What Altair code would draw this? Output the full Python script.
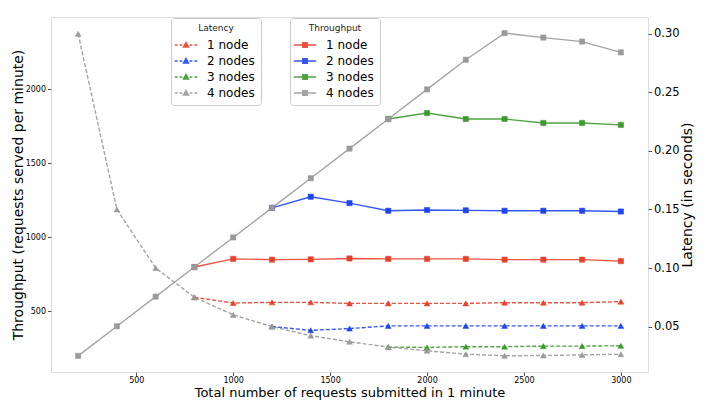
import altair as alt
import pandas as pd

requests = [200, 400, 600, 800, 1000, 1200, 1400, 1600, 1800, 2000, 2200, 2400, 2600, 2800, 3000]
series_labels = ["1 node", "2 nodes", "3 nodes", "4 nodes"]
colors = ["#e8412c", "#1f45f0", "#3c9a2c", "#9a9a9a"]

# Throughput (requests served per minute)
tp_1 = [None, None, None, 800, 855, 850, 852, 858, 855, 855, 855, 850, 850, 850, 840]
tp_2 = [None, None, None, None, None, 1200, 1275, 1232, 1180, 1185, 1183, 1180, 1180, 1180, 1175]
tp_3 = [None, None, None, None, None, None, None, None, 1800, 1840, 1800, 1800, 1773, 1773, 1760]
tp_4 = [200, 400, 600, 800, 1000, 1200, 1400, 1600, 1800, 2000, 2200, 2380, 2350, 2323, 2250]

# Latency (in seconds)
lat_1 = [None, None, None, 0.075, 0.0701, 0.0707, 0.0707, 0.0698, 0.0698, 0.0698, 0.0698, 0.0704, 0.0704, 0.0704, 0.0713]
lat_2 = [None, None, None, None, None, 0.050, 0.0468, 0.0483, 0.0506, 0.0506, 0.0506, 0.0506, 0.0506, 0.0506, 0.0506]
lat_3 = [None, None, None, None, None, None, None, None, 0.0325, 0.0322, 0.0328, 0.0328, 0.0333, 0.0333, 0.0336]
lat_4 = [0.30, 0.15, 0.10, 0.075, 0.060, 0.050, 0.0422, 0.037, 0.0325, 0.0293, 0.0264, 0.025, 0.0253, 0.0258, 0.0264]

x_ticks = [500, 1000, 1500, 2000, 2500, 3000]
tp_ticks = [500, 1000, 1500, 2000]
lat_ticks = [0.05, 0.10, 0.15, 0.20, 0.25, 0.30]

lat_keys = ["L1", "L2", "L3", "L4"]
tp_keys = ["T1", "T2", "T3", "T4"]


def build(keys, lists):
    rows = []
    for k, col, vals in zip(keys, colors, lists):
        for x, v in zip(requests, vals):
            if v is not None:
                rows.append({"x": x, "v": v, "s": k, "c": col})
    return pd.DataFrame(rows)


lat_df = build(lat_keys, [lat_1, lat_2, lat_3, lat_4])
tp_df = build(tp_keys, [tp_1, tp_2, tp_3, tp_4])

FONT = "DejaVu Sans"
label_expr = "substring(datum.label, 1) == '1' ? '1 node' : substring(datum.label, 1) + ' nodes'"

lat_path = "M-1.4,0H-1.05M-0.8,0H-0.45M0.45,0H0.8M1.05,0H1.4M-0.32,0.26L0,-0.32L0.32,0.26Z"
tp_path = "M-1.4,0H1.4M-0.28,-0.28H0.28V0.28H-0.28Z"


def legend(title, path, lx):
    return alt.Legend(
        title=title, orient="none", legendX=lx, legendY=1,
        titleFontSize=9, titleFontWeight=400, titleAnchor="middle",
        titleColor="#222", titleFont=FONT, titlePadding=3,
        labelFontSize=12, labelColor="black", labelFont=FONT,
        labelExpr=label_expr, labelOffset=12,
        symbolType=path, symbolSize=256, symbolStrokeWidth=1.4,
        fillColor="white", strokeColor="#cccccc", cornerRadius=3,
        padding=6, rowPadding=1,
    )


x_enc = alt.X(
    "x:Q",
    scale=alt.Scale(domain=[60, 3140], nice=False, zero=False),
    axis=alt.Axis(values=x_ticks, format="d", title="Total number of requests submitted in 1 minute",
                  titleFontSize=13, titleFontWeight="normal", titleFont=FONT, titleColor="black",
                  labelFontSize=8, labelFont=FONT, labelColor="black", tickSize=3.5,
                  tickColor="#555", domain=False, grid=False, titlePadding=2, labelPadding=1),
)

lat_color = alt.Scale(domain=lat_keys, range=colors)
tp_color = alt.Scale(domain=tp_keys, range=colors)

lat_y = alt.Y(
    "v:Q",
    scale=alt.Scale(domain=[0.0112, 0.3144], nice=False, zero=False),
    axis=alt.Axis(orient="right", values=lat_ticks, format=".2f", title="Latency (in seconds)",
                  titleFontSize=14, titleFontWeight="normal", titleFont=FONT, titleColor="black",
                  titleAngle=270, labelFontSize=11.5, labelFont=FONT, labelColor="black",
                  tickSize=3.5, tickColor="#555", domain=False, grid=False, titlePadding=15),
)

tp_y = alt.Y(
    "v:Q",
    scale=alt.Scale(domain=[91, 2489], nice=False, zero=False),
    axis=alt.Axis(orient="left", values=tp_ticks, format="d", title="Throughput (requests served per minute)",
                  titleFontSize=14, titleFontWeight="normal", titleFont=FONT, titleColor="black",
                  labelFontSize=8, labelFont=FONT, labelColor="black",
                  tickSize=3.5, tickColor="#555", domain=False, grid=False, titlePadding=0),
)

lat_leg = legend("Latency", lat_path, 120)
tp_leg = legend("Throughput", tp_path, 239)

lat_line = alt.Chart(lat_df).mark_line(strokeDash=[4, 2], strokeWidth=1.4, opacity=0.9).encode(
    x=x_enc, y=lat_y, stroke=alt.Stroke("c:N", scale=None)
)
lat_pts = alt.Chart(lat_df).mark_point(shape="triangle-up", filled=True, size=34, strokeWidth=0.5, opacity=1).encode(
    x=x_enc, y=lat_y,
    fill=alt.Fill("s:N", scale=lat_color, legend=lat_leg),
    stroke=alt.Stroke("s:N", scale=lat_color, legend=lat_leg),
)

tp_line = alt.Chart(tp_df).mark_line(strokeWidth=1.4, opacity=0.9).encode(
    x=x_enc, y=tp_y, stroke=alt.Stroke("c:N", scale=None)
)
tp_pts = alt.Chart(tp_df).mark_point(shape="square", filled=True, size=28, strokeWidth=0.5, opacity=1).encode(
    x=x_enc, y=tp_y,
    fill=alt.Fill("s:N", scale=tp_color, legend=tp_leg),
    stroke=alt.Stroke("s:N", scale=tp_color, legend=tp_leg),
)

tp_group = alt.layer(tp_line, tp_pts)
lat_group = alt.layer(lat_line, lat_pts)

chart = alt.layer(tp_group, lat_group).resolve_scale(
    y="independent", stroke="independent", fill="independent"
).resolve_legend(stroke="independent", fill="independent").properties(
    width=597, height=355,
    padding={"left": 43, "top": 9, "right": 50, "bottom": 30},
    autosize=alt.AutoSizeParams(type="none"),
).configure_view(stroke="#555", strokeWidth=1).configure(background="white")

chart.save("out.html", embed_options={"renderer": "svg", "actions": False})
